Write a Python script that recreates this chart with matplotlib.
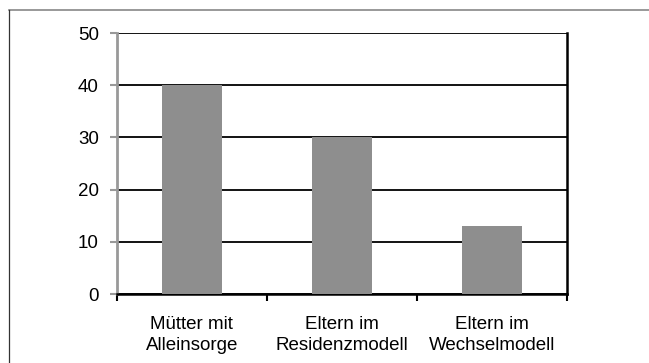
import matplotlib.pyplot as plt
from matplotlib.lines import Line2D

plt.rcParams['font.family'] = ['Liberation Sans', 'DejaVu Sans']

# Anteile je Betreuungsmodell
categories = ['Mütter mit\nAlleinsorge', 'Eltern im\nResidenzmodell', 'Eltern im\nWechselmodell']
values = [40, 30, 13]
yticks = [0, 10, 20, 30, 40, 50]

fig = plt.figure(figsize=(6.49, 3.63), dpi=100)
ax = fig.add_axes([0.180, 0.190, 0.694, 0.719])

x = range(len(categories))
ax.bar(x, values, width=0.4, color='#8e8e8e', zorder=3)

ax.set_xlim(-0.5, len(categories) - 0.5)
ax.set_ylim(0, 50)
ax.set_yticks(yticks)
ax.set_xticks(list(x))
ax.set_xticklabels(categories, fontsize=13.5, linespacing=1.3)
ax.set_yticklabels([str(v) for v in yticks], fontsize=13.5)

# Trennstriche zwischen den Kategorien
ax.set_xticks([i - 0.5 for i in range(len(categories) + 1)], minor=True)
ax.tick_params(axis='x', which='major', length=0, pad=16)
ax.tick_params(axis='x', which='minor', length=5, width=1.5, color='black', direction='out')
ax.tick_params(axis='y', length=5, width=1.5, color='#999999', pad=8)

ax.yaxis.grid(True, color='black', linewidth=1.3, zorder=1)
ax.set_axisbelow(True)

ax.spines['left'].set_color('#999999')
ax.spines['left'].set_linewidth(2)
ax.spines['bottom'].set_color('black')
ax.spines['bottom'].set_linewidth(1.8)
ax.spines['right'].set_color('black')
ax.spines['right'].set_linewidth(1.8)
ax.spines['top'].set_visible(False)

# Rahmen oben und links
fig.add_artist(Line2D([9 / 649, 1], [1 - 10 / 363, 1 - 10 / 363],
                      transform=fig.transFigure, color='#888888', linewidth=1.2))
fig.add_artist(Line2D([9 / 649, 9 / 649], [0, 1 - 10 / 363],
                      transform=fig.transFigure, color='#333333', linewidth=0.9))

fig.savefig('out.png', dpi=100)
